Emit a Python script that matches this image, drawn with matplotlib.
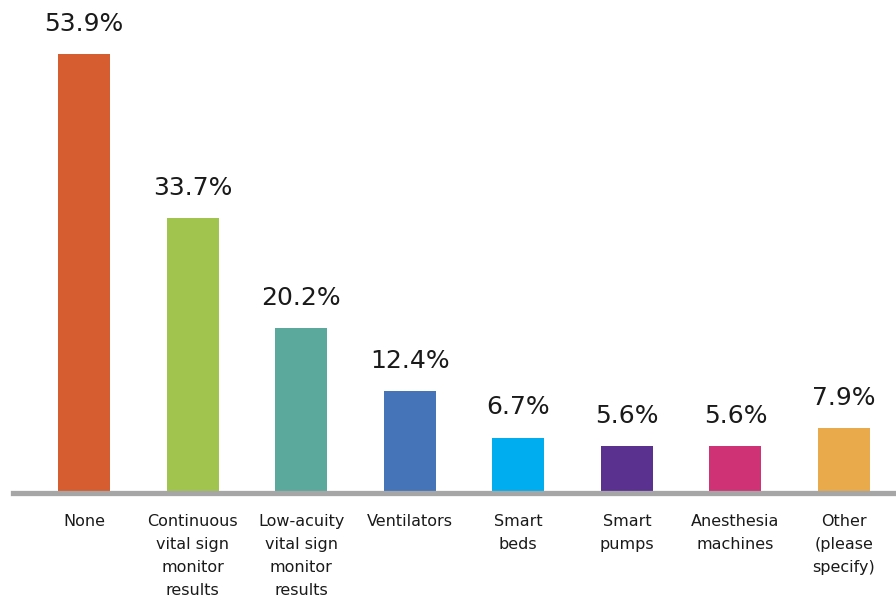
import matplotlib.pyplot as plt

categories = ['None', 'Continuous\nvital sign\nmonitor\nresults', 'Low-acuity\nvital sign\nmonitor\nresults',
              'Ventilators', 'Smart\nbeds', 'Smart\npumps', 'Anesthesia\nmachines', 'Other\n(please\nspecify)']
values = [53.9, 33.7, 20.2, 12.4, 6.7, 5.6, 5.6, 7.9]
colors = ['#d55d30', '#a1c44e', '#5ba89c', '#4574b9', '#00adee', '#5b3190', '#d03276', '#e8aa4a']

fig = plt.figure(figsize=(8.96, 5.96), dpi=100)
ax = fig.add_axes([13/896, (596-492)/596, 1 - 13/896, 492/596])

x = range(len(categories))
ax.bar(x, values, width=0.48, color=colors, zorder=2)
ax.axhline(-0.1, color='#a6a6a6', linewidth=3.8, zorder=3, clip_on=False)

for i, v in enumerate(values):
    ax.annotate(f'{v}%', (i, v), xytext=(0, 13), textcoords='offset points',
                ha='center', va='bottom', fontsize=18, color='#1a1a1a')

ax.set_xlim(-0.654, 7.479)
ax.set_ylim(0, 60.5)
ax.set_xticks(list(x))
ax.set_xticklabels(categories, fontsize=11.5, color='#1a1a1a', linespacing=1.65)
ax.tick_params(axis='x', length=0, pad=16)
ax.set_yticks([])
for s in ax.spines.values():
    s.set_visible(False)

fig.savefig('out.png', dpi=100)
